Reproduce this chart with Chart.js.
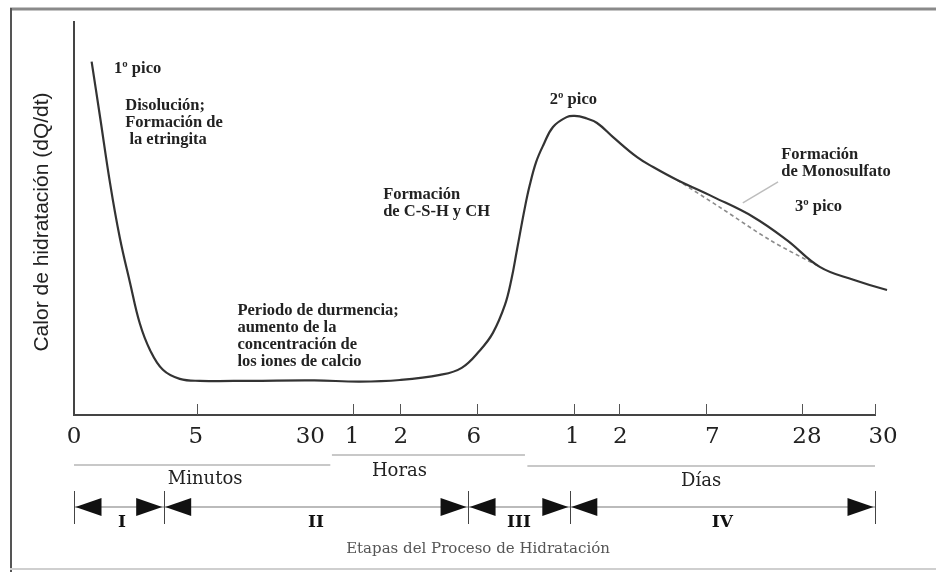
<!DOCTYPE html>
<html>
<head>
<meta charset="utf-8">
<script src="https://cdn.jsdelivr.net/npm/chart.js@4.4.0/dist/chart.umd.min.js"></script>
<style>
  body { margin: 0; background: #fff; }
  #wrap { width: 936px; height: 572px; }
</style>
</head>
<body>
<div id="wrap"><canvas id="c" width="936" height="572"></canvas></div>
<script>
// x is a position along the (non uniform) time axis, 0..100 ; y is heat rate 0..100
const curveX = [2.2, 3.25, 4.5, 5.7, 7.0, 8.2, 9.5, 11.1, 13.2, 15.7, 22.0, 30.0, 35.7, 40.7, 45.7, 48.4, 50.7, 52.3, 53.8, 54.6, 55.3, 56.3, 56.9, 57.7, 58.6, 59.8, 61.5, 62.5, 63.8, 65.3, 67.3, 70.3, 72.3, 75.3, 79.8, 84.8, 89.0, 93.1, 97.3, 101.5, 106.6];
const curveY = [89.9, 75.9, 59.0, 45.3, 33.6, 23.4, 16.5, 11.5, 9.2, 8.7, 8.7, 8.8, 8.5, 8.9, 10.2, 12.0, 16.5, 20.9, 28.0, 34.4, 42.0, 52.9, 58.5, 64.4, 68.7, 73.3, 75.8, 76.1, 75.6, 74.3, 70.7, 65.6, 63.1, 59.8, 55.5, 50.4, 44.5, 37.7, 34.4, 31.8, 29.3];
// curve without the monosulfate hump (dashed)
const baseX = [75.3, 80.6, 86.9, 93.1];
const baseY = [59.8, 52.9, 44.5, 37.7];
// leader line towards "Formación de Monosulfato"
const leaderX = [83.5, 87.9];
const leaderY = [54.0, 59.3];

// axis ticks
const tickMarks = [15.4, 34.8, 40.7, 50.3, 62.4, 68.0, 78.9, 90.9, 100];
const labelPos = [0, 15.2, 29.5, 34.7, 40.8, 49.9, 62.2, 68.2, 79.7, 91.5, 101];
const labelText = ['0', '5', '30', '1', '2', '6', '1', '2', '7', '28', '30'];

// time units and stages
const unitNames = ['Minutos', 'Horas', 'Días'];
const unitFrom = [0, 32.2, 56.6];
const unitTo = [32.0, 56.3, 100];
const stageNames = ['I', 'II', 'III', 'IV'];
const stageBounds = [0, 11.2, 49.2, 61.9, 100];

// notes on the curve: [x, y, lines]
const notes = [
  [5.0, 88.0, ['1º pico']],
  [6.4, 78.6, ['Disolución;', 'Formación de', ' la etringita']],
  [20.4, 26.5, ['Periodo de durmencia;', 'aumento de la', 'concentración de', 'los iones de calcio']],
  [38.6, 56.0, ['Formación', 'de C-S-H y CH']],
  [59.4, 80.2, ['2º pico']],
  [88.3, 66.2, ['Formación', 'de Monosulfato']],
  [90.0, 52.9, ['3º pico']]
];

const toPts = (xs, ys) => xs.map((v, i) => ({ x: v, y: ys[i] }));

const drawer = {
  id: 'drawer',
  beforeDraw(chart) {
    const c = chart.ctx;
    c.save();
    c.fillStyle = '#fff';
    c.fillRect(0, 0, chart.width, chart.height);
    // frame of the scanned figure
    c.strokeStyle = '#8a8a8a'; c.lineWidth = 3;
    c.beginPath(); c.moveTo(10, 9); c.lineTo(936, 9); c.stroke();
    c.strokeStyle = '#555'; c.lineWidth = 2;
    c.beginPath(); c.moveTo(11, 8); c.lineTo(11, 572); c.stroke();
    c.strokeStyle = '#cfcfcf'; c.lineWidth = 2;
    c.beginPath(); c.moveTo(10, 569); c.lineTo(936, 569); c.stroke();
    c.restore();
  },
  afterDraw(chart) {
    const c = chart.ctx, xs = chart.scales.x, ys = chart.scales.y;
    const a = chart.chartArea;
    const px = v => xs.getPixelForValue(v);
    const py = v => ys.getPixelForValue(v);
    c.save();
    // tick marks pointing up
    c.strokeStyle = '#555'; c.lineWidth = 1;
    tickMarks.forEach(t => {
      const x = Math.round(px(t)) + 0.5;
      c.beginPath(); c.moveTo(x, a.bottom); c.lineTo(x, a.bottom - 11); c.stroke();
    });
    // y title
    c.fillStyle = '#222';
    c.font = '21px "Liberation Sans Narrow", "Liberation Sans", sans-serif';
    c.textAlign = 'center'; c.textBaseline = 'middle';
    c.save(); c.translate(42, 222); c.rotate(-Math.PI / 2);
    c.fillText('Calor de hidratación (dQ/dt)', 0, 0);
    c.restore();
    // notes
    c.font = 'bold 16.5px "Liberation Serif", serif';
    c.textAlign = 'left';
    notes.forEach(n => {
      n[2].forEach((t, i) => c.fillText(t, px(n[0]), py(n[1]) + i * 17));
    });
    // unit ranges
    const b = a.bottom;
    const unitY = [b + 50, b + 40, b + 51];
    const unitLab = [b + 64, b + 56, b + 66];
    unitNames.forEach((u, i) => {
      c.strokeStyle = '#c8c8c8'; c.lineWidth = 2;
      c.beginPath(); c.moveTo(px(unitFrom[i]), unitY[i]); c.lineTo(px(unitTo[i]), unitY[i]); c.stroke();
      c.fillStyle = '#222';
      c.font = '18px "DejaVu Serif", serif';
      c.textAlign = 'center';
      c.fillText(u, (px(unitFrom[i]) + px(unitTo[i])) / 2 + [3, -29, 0][i], unitLab[i]);
    });
    // stages with arrows
    const ay = b + 92;
    c.strokeStyle = '#bbb'; c.lineWidth = 2;
    c.beginPath(); c.moveTo(px(0), ay); c.lineTo(px(100), ay); c.stroke();
    c.strokeStyle = '#444'; c.lineWidth = 1;
    stageBounds.forEach(s => {
      const x = Math.round(px(s)) + 0.5;
      c.beginPath(); c.moveTo(x, ay - 16); c.lineTo(x, ay + 17); c.stroke();
    });
    c.fillStyle = '#111';
    for (let i = 0; i < stageNames.length; i++) {
      const l = px(stageBounds[i]) + 1.5, r = px(stageBounds[i + 1]) - 1.5;
      c.beginPath(); c.moveTo(l, ay); c.lineTo(l + 26, ay - 9); c.lineTo(l + 26, ay + 9); c.closePath(); c.fill();
      c.beginPath(); c.moveTo(r, ay); c.lineTo(r - 26, ay - 9); c.lineTo(r - 26, ay + 9); c.closePath(); c.fill();
      c.font = 'bold 17px "DejaVu Serif", serif';
      c.fillText(stageNames[i], (l + r) / 2 + [3, 0, 0, 0][i], ay + 16);
    }
    c.fillStyle = '#555';
    c.font = '15px "DejaVu Serif", serif';
    c.fillText('Etapas del Proceso de Hidratación', 478, b + 134);
    c.restore();
  }
};

new Chart(document.getElementById('c'), {
  type: 'line',
  data: {
    datasets: [
      { data: toPts(curveX, curveY), borderColor: '#333', borderWidth: 2.2, pointRadius: 0, tension: 0.4, clip: false },
      { data: toPts(baseX, baseY), borderColor: '#8c8c8c', borderWidth: 1.6, borderDash: [4, 3], pointRadius: 0, tension: 0.3, clip: false },
      { data: toPts(leaderX, leaderY), borderColor: '#bdbdbd', borderWidth: 1.5, pointRadius: 0, clip: false }
    ]
  },
  options: {
    responsive: false,
    animation: false,
    layout: { padding: { left: 74, right: 61, top: 22, bottom: 0 } },
    plugins: { legend: { display: false }, tooltip: { enabled: false } },
    scales: {
      x: {
        type: 'linear', min: 0, max: 100,
        grid: { display: false, drawTicks: false },
        border: { display: true, color: '#444', width: 2 },
        afterBuildTicks: s => { s.ticks = labelPos.map(v => ({ value: v })); },
        afterFit: s => { s.height = 157; s.paddingLeft = 0; s.paddingRight = 0; },
        ticks: {
          autoSkip: false, maxRotation: 0, padding: 8, color: '#222',
          font: { family: '"DejaVu Serif", serif', size: 23 },
          callback: (v, i) => labelText[i]
        }
      },
      y: {
        min: 0, max: 100,
        grid: { display: false, drawTicks: false },
        border: { display: true, color: '#444', width: 2 },
        ticks: { display: false }
      }
    }
  },
  plugins: [drawer]
});
</script>
</body>
</html>
